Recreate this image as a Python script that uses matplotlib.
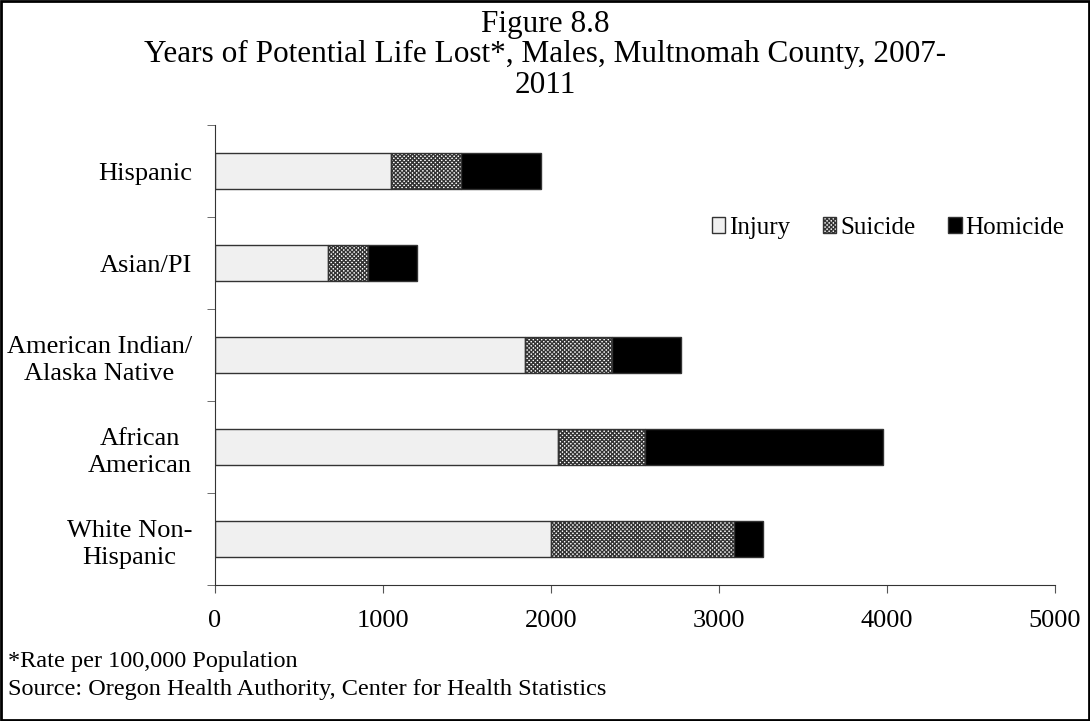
import numpy as np
import matplotlib.pyplot as plt
from matplotlib.patches import Rectangle

plt.rcParams['font.family'] = ['Liberation Serif', 'DejaVu Serif']
plt.rcParams['hatch.linewidth'] = 1.0

# data, bottom to top
groups = ['White Non-\nHispanic', 'African\nAmerican', 'American Indian/\nAlaska Native', 'Asian/PI', 'Hispanic']
injury = [2000, 2045, 1845, 670, 1050]
suicide = [1090, 515, 520, 240, 415]
homicide = [170, 1415, 410, 290, 475]

fig = plt.figure(figsize=(10.9, 7.21), dpi=100)
ax = fig.add_axes([0.1972, 0.1886, 0.7706, 0.638])

y = np.arange(len(groups))
h = 0.4
left = np.zeros(len(groups))
ax.barh(y, injury, h, left=left, color='#f0f0f0', edgecolor='#333333', lw=1.0, label='Injury')
left += injury
ax.barh(y, suicide, h, left=left, color='white', edgecolor='#333333', hatch='xxxxxxxx', lw=1.0, label='Suicide')
left += suicide
ax.barh(y, homicide, h, left=left, color='black', edgecolor='#333333', lw=1.0, label='Homicide')

ax.set_xlim(0, 5000)
ax.set_ylim(-0.5, len(groups) - 0.5)
ax.set_xticks(range(0, 5001, 1000))
ax.set_yticks(y)
ax.set_yticklabels(groups, multialignment='center', linespacing=1.35)
ax.set_yticks(np.arange(-0.5, len(groups)), minor=True)
ax.tick_params(axis='y', which='major', length=0, pad=16.5, labelsize=19)
ax.tick_params(axis='y', which='minor', length=6, color='#555555')
ax.tick_params(axis='x', length=6, color='#555555', pad=12, labelsize=19)
for s in ['top', 'right']:
    ax.spines[s].set_visible(False)
ax.spines['left'].set_color('#333333')
ax.spines['bottom'].set_color('#333333')

fig.text(0.5, 0.924, 'Figure 8.8\nYears of Potential Life Lost*, Males, Multnomah County, 2007-\n2011',
         ha='center', va='center', fontsize=22.5, linespacing=1.07)

ax.legend(loc='center right', bbox_to_anchor=(0.988, 0.684), bbox_transform=fig.transFigure,
          ncol=3, frameon=False, fontsize=18, handlelength=0.55, handleheight=0.55,
          handletextpad=0.15, columnspacing=1.3, borderpad=0)

fig.text(0.007, 0.083, '*Rate per 100,000 Population', fontsize=17.5, va='center')
fig.text(0.007, 0.044, 'Source: Oregon Health Authority, Center for Health Statistics', fontsize=17.5, va='center')

fig.patches.append(Rectangle((0.001, 0.001), 0.998, 0.997, transform=fig.transFigure,
                             fill=False, edgecolor='black', lw=2))

fig.savefig('out.png', dpi=100)
